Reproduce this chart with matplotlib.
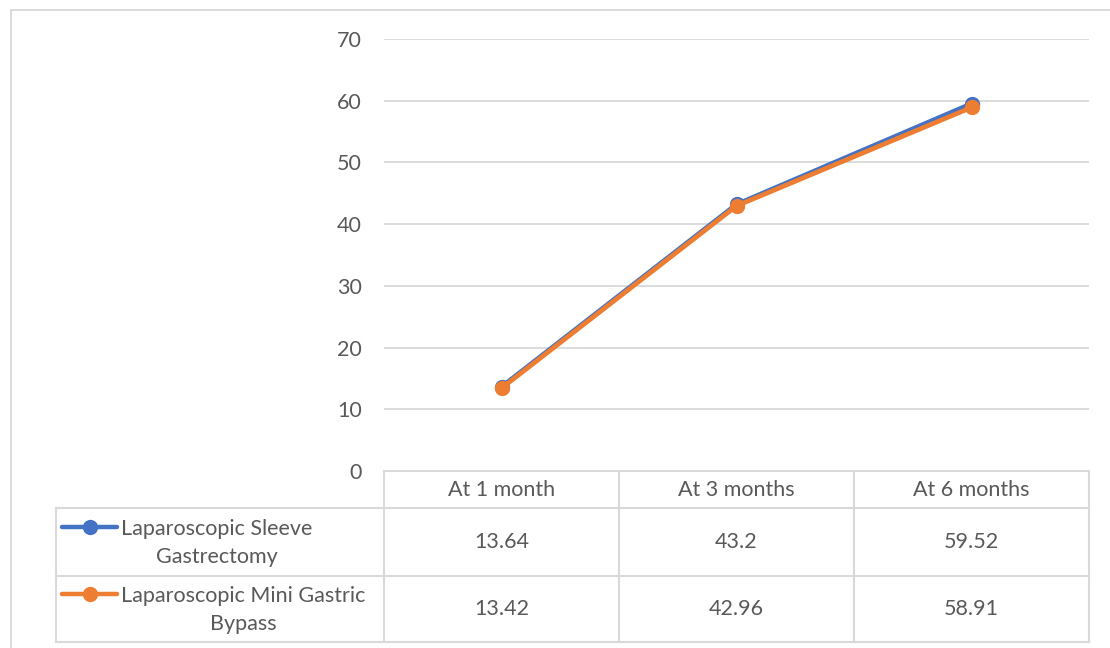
import matplotlib
matplotlib.use("Agg")
import matplotlib.pyplot as plt
from matplotlib.lines import Line2D

plt.rcParams['font.family'] = ['Lato', 'DejaVu Sans']

categories = ["At 1 month", "At 3 months", "At 6 months"]
series_names = ["Laparoscopic Sleeve\nGastrectomy", "Laparoscopic Mini Gastric\nBypass"]
sleeve = [13.64, 43.2, 59.52]
mini_bypass = [13.42, 42.96, 58.91]
series_values = [sleeve, mini_bypass]
series_colors = ["#4472C4", "#ED7D31"]
y_ticks = [0, 10, 20, 30, 40, 50, 60, 70]

W, H = 1110, 648
TEXT = "#595959"
GRID = "#D9D9D9"
FS = 15.5

fig = plt.figure(figsize=(W / 100, H / 100), dpi=100)

# plot area geometry (pixels)
px_left, px_right, px_top, px_bottom = 384, 1089, 39, 471
ax = fig.add_axes([px_left / W, 1 - px_bottom / H,
                   (px_right - px_left) / W, (px_bottom - px_top) / H])
n = len(categories)
xs = [i + 0.5 for i in range(n)]
ax.set_xlim(0, n)
ax.set_ylim(0, 70)
ax.set_yticks(y_ticks)
ax.set_yticklabels([str(t) for t in y_ticks], fontsize=FS, color=TEXT)
ax.tick_params(axis='y', length=0, pad=16)
ax.set_xticks([])
for s in ax.spines.values():
    s.set_visible(False)
ax.grid(axis='y', color=GRID, linewidth=1.3)
ax.set_axisbelow(True)

for vals, col in zip(series_values, series_colors):
    ax.plot(xs, vals, color=col, linewidth=3.4, marker='o', markersize=10,
            solid_capstyle='round', zorder=3)

# overlay in pixel coordinates for the frame and data table
ov = fig.add_axes([0, 0, 1, 1], zorder=-1)
ov.set_xlim(0, W)
ov.set_ylim(H, 0)
ov.axis('off')

# chart frame
ov.plot([11, 11], [10, H], color=GRID, lw=1.3)
ov.plot([11, W], [10, 10], color=GRID, lw=1.3)

# table grid
col_w = (px_right - px_left) / n
col_edges = [px_left + i * col_w for i in range(n + 1)]
leg_left = 56
row_header = (471, 508)
row_edges = [508, 576, 642]
lkw = dict(color=GRID, lw=1.5)
ov.plot([px_left, px_right], [471, 471], **lkw)
for y in row_edges:
    ov.plot([leg_left, px_right], [y, y], **lkw)
for x in col_edges:
    ov.plot([x, x], [471, row_edges[-1]], **lkw)
ov.plot([leg_left, leg_left], [row_edges[0], row_edges[-1]], **lkw)

# header labels
for i, c in enumerate(categories):
    ov.text(col_edges[i] + col_w / 2, sum(row_header) / 2, c, ha='center',
            va='center', fontsize=FS, color=TEXT)

# series rows: legend key + wrapped name, then values
for r, (name, vals, col) in enumerate(zip(series_names, series_values, series_colors)):
    top, bot = row_edges[r], row_edges[r + 1]
    mid = (top + bot) / 2
    ov.text(121, mid + 1, name, ha='left', va='center', multialignment='center',
            fontsize=FS, color=TEXT, linespacing=1.55)
    ky = mid - 15
    ov.add_line(Line2D([62, 117], [ky, ky], color=col, lw=3.2,
                       solid_capstyle='round'))
    ov.add_line(Line2D([90], [ky], color=col, marker='o', markersize=10))
    for i, v in enumerate(vals):
        ov.text(col_edges[i] + col_w / 2, mid, f"{v:g}", ha='center',
                va='center', fontsize=FS, color=TEXT)

fig.savefig("out.png", dpi=100, facecolor="white")
